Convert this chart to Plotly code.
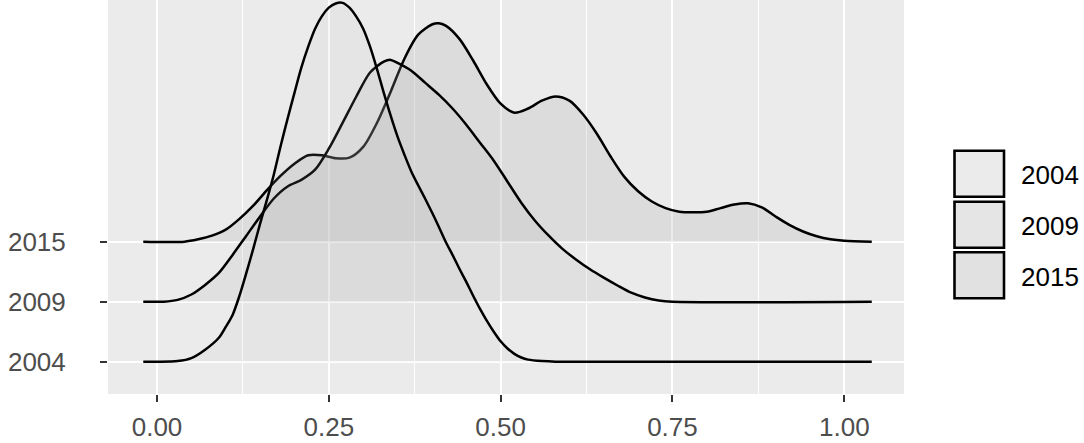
import plotly.graph_objects as go

# ---------------- data ----------------
years = ["2004", "2009", "2015"]
x_ticks = [0.00, 0.25, 0.50, 0.75, 1.00]
x_ticklabels = ["0.00", "0.25", "0.50", "0.75", "1.00"]

x_2004 = [-0.02, 0.00, 0.03, 0.05, 0.07, 0.09, 0.10, 0.11, 0.12, 0.13, 0.14, 0.15, 0.16,
          0.17, 0.18, 0.19, 0.20, 0.21, 0.22, 0.23, 0.24, 0.25, 0.26, 0.27, 0.28, 0.29,
          0.30, 0.31, 0.32, 0.33, 0.34, 0.35, 0.36, 0.37, 0.38, 0.39, 0.40, 0.41, 0.42,
          0.43, 0.44, 0.45, 0.46, 0.47, 0.48, 0.49, 0.50, 0.51, 0.52, 0.53, 0.54, 0.56,
          0.58, 1.04]
h_2004 = [0.0, 0.0, 0.01, 0.06, 0.2, 0.4, 0.58, 0.78, 1.1, 1.48, 1.88, 2.3, 2.7,
          3.12, 3.6, 4.05, 4.48, 4.9, 5.25, 5.55, 5.76, 5.9, 5.97, 5.98, 5.9, 5.75,
          5.55, 5.25, 4.88, 4.48, 4.1, 3.75, 3.45, 3.17, 2.94, 2.72, 2.49, 2.25, 2.0,
          1.78, 1.55, 1.33, 1.1, 0.88, 0.68, 0.5, 0.34, 0.22, 0.13, 0.07, 0.035, 0.01,
          0.0, 0.0]

x_2009 = [-0.02, 0.01, 0.03, 0.05, 0.07, 0.09, 0.11, 0.13, 0.15, 0.17, 0.19, 0.21, 0.23,
          0.25, 0.27, 0.29, 0.31, 0.33, 0.34, 0.35, 0.37, 0.39, 0.41, 0.43, 0.45, 0.47,
          0.49, 0.51, 0.53, 0.55, 0.57, 0.59, 0.61, 0.63, 0.65, 0.67, 0.69, 0.71, 0.73,
          0.75, 1.04]
h_2009 = [0.0, 0.0, 0.03, 0.12, 0.28, 0.48, 0.78, 1.1, 1.42, 1.72, 1.92, 2.03, 2.2,
          2.55, 2.98, 3.42, 3.82, 4.0, 4.03, 3.98, 3.85, 3.65, 3.45, 3.22, 2.95, 2.65,
          2.35, 2.0, 1.65, 1.35, 1.1, 0.88, 0.7, 0.54, 0.4, 0.27, 0.15, 0.07, 0.02,
          0.0, 0.0]

x_2015 = [-0.02, 0.04, 0.06, 0.08, 0.10, 0.12, 0.14, 0.16, 0.18, 0.20, 0.22, 0.24, 0.26,
          0.28, 0.30, 0.32, 0.34, 0.36, 0.38, 0.40, 0.41, 0.42, 0.44, 0.46, 0.48, 0.50,
          0.52, 0.54, 0.56, 0.58, 0.60, 0.62, 0.64, 0.66, 0.68, 0.70, 0.72, 0.74, 0.76,
          0.78, 0.80, 0.82, 0.84, 0.86, 0.88, 0.90, 0.92, 0.94, 0.96, 0.98, 1.00, 1.04]
h_2015 = [0.0, 0.0, 0.04, 0.1, 0.2, 0.38, 0.6, 0.86, 1.1, 1.3, 1.44, 1.44, 1.39,
          1.4, 1.58, 1.98, 2.5, 3.05, 3.45, 3.62, 3.64, 3.6, 3.38, 3.02, 2.62, 2.3,
          2.15, 2.22, 2.35, 2.42, 2.35, 2.12, 1.8, 1.42, 1.08, 0.84, 0.67, 0.56, 0.5,
          0.49, 0.5, 0.56, 0.62, 0.64, 0.57, 0.42, 0.28, 0.17, 0.09, 0.04, 0.015, 0.0]

series = {"2004": (x_2004, h_2004), "2009": (x_2009, h_2009), "2015": (x_2015, h_2015)}

# ---------------- styling ----------------
W, H = 1084, 443
ML, MR, MT, MB = 108, 180, 0, 49
FONT = "Liberation Sans, Arial, sans-serif"
FS = 26
fills = {"2004": "rgba(180,180,180,0.11)",
         "2009": "rgba(180,180,180,0.20)",
         "2015": "rgba(180,180,180,0.27)"}
pos = {y: i + 1 for i, y in enumerate(years)}

fig = go.Figure()
for yr in reversed(years):  # top ridge first, lower ridges drawn over it
    xs, hs = series[yr]
    base = pos[yr]
    ys = [base + h for h in hs]
    fig.add_trace(go.Scatter(
        x=list(xs) + list(reversed(xs)),
        y=ys + [base] * len(xs),
        fill="toself", fillcolor=fills[yr], line=dict(width=0, shape="spline", smoothing=0.8),
        mode="lines", hoverinfo="skip", showlegend=False))
    fig.add_trace(go.Scatter(
        x=xs, y=ys, mode="lines",
        line=dict(color="black", width=2.5, shape="spline", smoothing=0.8),
        name=yr, showlegend=False))

plot_w = W - ML - MR
plot_h = H - MT - MB


def px2paper_x(px):
    return (px - ML) / plot_w


def px2paper_y(py):
    return (H - MB - py) / plot_h


# legend drawn by hand (ggplot-style key boxes)
key_tops = [150.7, 201.7, 252.3]
key_h = 46.0
shapes = []
annotations = []
for i, yr in enumerate(years):
    y0 = key_tops[i]
    y1 = y0 + key_h
    shapes.append(dict(type="rect", xref="paper", yref="paper",
                       x0=px2paper_x(954.5), x1=px2paper_x(1004),
                       y0=px2paper_y(y1), y1=px2paper_y(y0),
                       fillcolor="#f2f2f2", line=dict(width=0), layer="above"))
    shapes.append(dict(type="rect", xref="paper", yref="paper",
                       x0=px2paper_x(954.5), x1=px2paper_x(1004),
                       y0=px2paper_y(y1), y1=px2paper_y(y0),
                       fillcolor=fills[yr], line=dict(color="black", width=2.6), layer="above"))
    annotations.append(dict(text=yr, xref="paper", yref="paper",
                            x=px2paper_x(1019), y=px2paper_y((y0 + y1) / 2 + 1.5),
                            xanchor="left", yanchor="middle", showarrow=False,
                            font=dict(family=FONT, size=FS, color="black")))

fig.update_layout(
    width=W, height=H,
    margin=dict(l=ML, r=MR, t=MT, b=MB, pad=0, autoexpand=False),
    paper_bgcolor="white", plot_bgcolor="#ebebeb",
    showlegend=False,
    shapes=shapes, annotations=annotations,
    font=dict(family=FONT),
)
fig.update_xaxes(
    range=[-0.0713, 1.0869], tickvals=x_ticks, ticktext=x_ticklabels,
    showgrid=True, gridcolor="white", gridwidth=2,
    minor=dict(dtick=0.125, tick0=0.125, showgrid=True, gridcolor="white", gridwidth=1.1, ticks=""),
    ticks="outside", ticklen=7, tickwidth=2, tickcolor="#333333",
    tickfont=dict(family=FONT, size=FS, color="#4d4d4d"),
    ticklabelstandoff=3, automargin=False,
    zeroline=False, showline=False, fixedrange=True,
)
fig.update_yaxes(
    range=[0.4617, 7.028], tickvals=[pos[y] for y in years], ticktext=years,
    showgrid=True, gridcolor="white", gridwidth=2,
    ticks="outside", ticklen=7, tickwidth=2, tickcolor="#333333",
    tickfont=dict(family=FONT, size=FS, color="#4d4d4d"),
    ticklabelstandoff=29, automargin=False,
    zeroline=False, showline=False, fixedrange=True,
)

fig.write_html("out.html", config={"displayModeBar": False},
               post_script="document.body.style.margin='0';document.body.style.padding='0';")
